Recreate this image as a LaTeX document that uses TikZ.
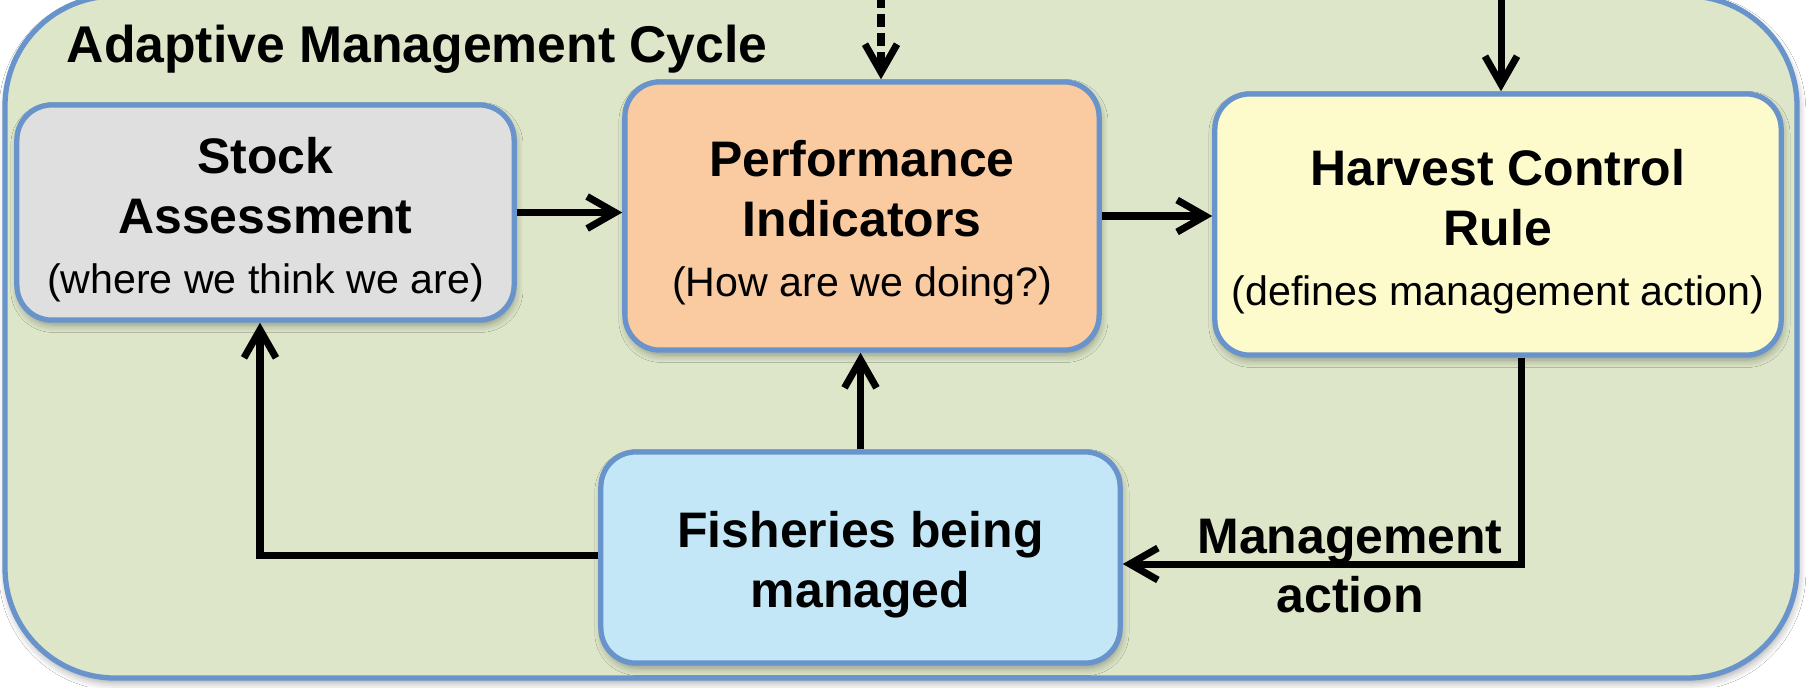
\documentclass[tikz,border=0pt]{standalone}
\usepackage{fontspec}
\setmainfont{Liberation Sans}
\usetikzlibrary{arrows.meta,shadows.blur}

\definecolor{cyclebg}{RGB}{221,230,200}
\definecolor{edgeblue}{RGB}{104,148,203}
\definecolor{stockgray}{RGB}{223,223,223}
\definecolor{indpeach}{RGB}{250,202,160}
\definecolor{rulecream}{RGB}{253,251,204}
\definecolor{fishblue}{RGB}{196,231,247}

\newcommand{\boxhead}{\fontsize{14.2}{17}\selectfont\bfseries}
\newcommand{\boxnote}{\fontsize{11.7}{17}\selectfont\mdseries}
\newcommand{\capstrut}{\rule{0pt}{5mm}}

\begin{document}
\begin{tikzpicture}[x=0.01cm, y=-0.01cm,
	softshadow/.style={blur shadow={shadow xshift=0.4pt, shadow yshift=-1.4pt, shadow opacity=35, shadow blur steps=6}},
	box/.style={draw=edgeblue, line width=1.5pt, rounded corners=0.35cm, align=center, inner sep=0pt, font=\boxhead, softshadow},
	link/.style={line width=2pt, -{Straight Barb[length=2.8mm, width=3.2mm]}}]
			\useasboundingbox (0,0) rectangle (1809,687);
			\fill[white] (0,0) rectangle (1809,687);

			% Cycle frame, cut off at the top
			\begin{scope}
				\clip (0,0) rectangle (1809,687);
				\draw[edgeblue, fill=cyclebg, line width=1.5pt, rounded corners=1.1cm, softshadow] (5,-4) rectangle (1797,678);
			\end{scope}
			\node[anchor=base west, inner sep=0pt, font=\fontsize{14.7}{17}\selectfont\bfseries] (title) at (66,62) {Adaptive Management Cycle};

			% Boxes
			\node[box, fill=stockgray, minimum width=4.97cm, minimum height=2.15cm] (stock) at (265.5,212.5) {\capstrut Stock\\Assessment\\\boxnote (where we think we are)};
			\node[box, fill=indpeach, minimum width=4.74cm, minimum height=2.68cm] (ind) at (862,216) {\capstrut Performance\\Indicators\\\boxnote (How are we doing?)};
			\node[box, fill=rulecream, minimum width=5.66cm, minimum height=2.61cm] (hcr) at (1498,224.5) {\capstrut Harvest Control\\Rule\\\boxnote (defines management action)};
			\node[box, fill=fishblue, minimum width=5.19cm, minimum height=2.11cm] (fish) at (860.5,557.5) {\capstrut Fisheries being\\managed};

			% Top row
			\draw[link] (stock.east) -- (stock.east -| ind.west);
			\draw[link] (ind.east) -- (ind.east -| hcr.west);

			% Inputs from above
			\coordinate (dashin) at (881,-5);
			\coordinate (rulein) at (1501,-5);
			\draw[link, dash pattern=on 0.13cm off 0.06cm] (dashin) -- (dashin |- ind.north);
			\draw[link] (rulein) -- (rulein |- hcr.north);

			% Management action
			\coordinate (act) at (1521,564);
			\draw[link] (act |- hcr.south) -- (act) -- (act -| fish.east);
			\node[font=\boxhead, align=center, inner sep=0pt] (actlabel) at (1350,566) {Management\\action};

			% Back from the fisheries
			\coordinate (obs) at (260,555);
			\draw[link] (fish.west |- obs) -- (obs) -- (obs |- stock.south);
			\draw[link] (fish.north) -- (fish.north |- ind.south);
\end{tikzpicture}
\end{document}
